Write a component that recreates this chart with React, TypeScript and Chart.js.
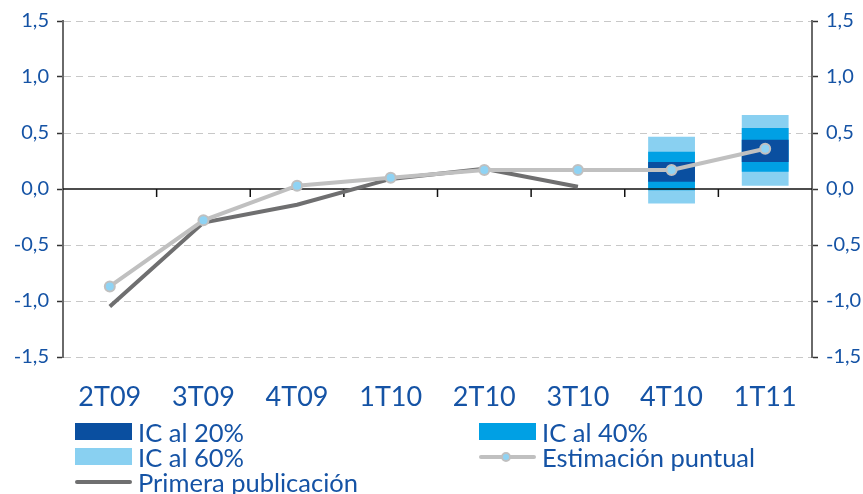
import React, { useEffect, useRef } from 'react';
import { Chart, registerables } from 'chart.js';
Chart.register(...registerables);

const categories = ['2T09', '3T09', '4T09', '1T10', '2T10', '3T10', '4T10', '1T11'];
const estimacion = [-0.87, -0.28, 0.03, 0.1, 0.17, 0.17, 0.17, 0.36];
const primera = [-1.05, -0.3, -0.14, 0.09, 0.18, 0.02, null, null];
const ic20Low = [null, null, null, null, null, null, 0.065, 0.24];
const ic20High = [null, null, null, null, null, null, 0.24, 0.44];
const ic40Low = [null, null, null, null, null, null, -0.012, 0.155];
const ic40High = [null, null, null, null, null, null, 0.333, 0.545];
const ic60Low = [null, null, null, null, null, null, -0.13, 0.03];
const ic60High = [null, null, null, null, null, null, 0.467, 0.66];
const yMin = -1.5;
const yMax = 1.5;
const yStep = 0.5;

const TEXT = '#1553a5';
const DARK = '#0a4fa0';
const MID = '#00a0e4';
const LIGHT = '#89d0f1';
const EST = '#c0c0c0';
const PRIM = '#6f6f70';
const FONT = 'Lato, "Open Sans", "DejaVu Sans", sans-serif';

const range = (lo: (number | null)[], hi: (number | null)[]) =>
  lo.map((v, i) => (v == null || hi[i] == null ? null : [v, hi[i] as number]));

const fmt = (v: number) => (Math.abs(v) < 1e-9 ? 0 : v).toFixed(1).replace('.', ',');

export default function App() {
  const ref = useRef<HTMLCanvasElement>(null);
  useEffect(() => {
    if (!ref.current) return;
    const zeroPlugin = {
      id: 'zeroLine',
      beforeDatasetDraw(chart: any, args: any) {
        if (args.index !== 1) return;
        const { ctx, chartArea, scales } = chart;
        const y0 = scales.y.getPixelForValue(0);
        ctx.save();
        ctx.strokeStyle = '#111';
        ctx.lineWidth = 1.5;
        ctx.beginPath();
        ctx.moveTo(chartArea.left, y0);
        ctx.lineTo(chartArea.right, y0);
        ctx.stroke();
        for (let i = 1; i < categories.length; i++) {
          const x = (scales.x.getPixelForValue(i - 1) + scales.x.getPixelForValue(i)) / 2;
          ctx.beginPath();
          ctx.moveTo(x, y0);
          ctx.lineTo(x, y0 + 8);
          ctx.stroke();
        }
        ctx.restore();
      },
    };
    const yCommon = (pos: 'left' | 'right', onArea: boolean, width: number) => ({
      type: 'linear' as const,
      position: pos,
      min: yMin,
      max: yMax,
      afterFit: (s: any) => {
        s.width = width;
      },
      ticks: {
        stepSize: yStep,
        color: TEXT,
        padding: 8,
        font: { family: FONT, size: 20 },
        callback: (v: any) => fmt(Number(v)),
      },
      grid: {
        display: true,
        drawOnChartArea: onArea,
        drawTicks: true,
        tickLength: 6,
        tickColor: '#333',
        tickWidth: 1.5,
        color: (c: any) => (c.tick && Math.abs(c.tick.value) < 1e-9 ? 'rgba(0,0,0,0)' : '#c8c8c8'),
        lineWidth: 1,
      },
      border: {
        display: true,
        color: '#6a6a6a',
        width: 2,
        dash: [7, 5],
      },
    });
    const chart = new Chart(ref.current, {
      type: 'bar',
      data: {
        labels: categories,
        datasets: [
          {
            type: 'line',
            label: 'Estimación puntual',
            data: estimacion,
            borderColor: EST,
            borderWidth: 4,
            pointRadius: 5,
            pointBackgroundColor: '#8fd3f4',
            pointBorderColor: EST,
            pointBorderWidth: 2,
            tension: 0,
            order: 0,
          },
          {
            type: 'line',
            label: 'Primera publicación',
            data: primera,
            borderColor: PRIM,
            borderWidth: 4,
            pointRadius: 0,
            tension: 0,
            spanGaps: false,
            order: 1,
          },
          {
            label: 'IC al 20%',
            data: range(ic20Low, ic20High) as any,
            backgroundColor: DARK,
            grouped: false,
            barPercentage: 0.5,
            categoryPercentage: 1,
            order: 2,
          },
          {
            label: 'IC al 40%',
            data: range(ic40Low, ic40High) as any,
            backgroundColor: MID,
            grouped: false,
            barPercentage: 0.5,
            categoryPercentage: 1,
            order: 3,
          },
          {
            label: 'IC al 60%',
            data: range(ic60Low, ic60High) as any,
            backgroundColor: LIGHT,
            grouped: false,
            barPercentage: 0.5,
            categoryPercentage: 1,
            order: 4,
          },
        ] as any,
      },
      options: {
        animation: false,
        responsive: true,
        maintainAspectRatio: false,
        layout: { padding: { top: 21, left: 0, right: 0, bottom: 0 } },
        plugins: { legend: { display: false }, tooltip: { enabled: false } },
        scales: {
          x: {
            type: 'category',
            offset: true,
            afterFit: (s: any) => {
              s.height = 137;
            },
            grid: { display: false, drawTicks: false },
            border: { display: false },
            ticks: {
              color: TEXT,
              padding: 24,
              font: { family: FONT, size: 27 },
              maxRotation: 0,
              autoSkip: false,
            },
          },
          y: yCommon('left', true, 63) as any,
          y2: yCommon('right', false, 51) as any,
        },
      },
      plugins: [zeroPlugin],
    });
    return () => chart.destroy();
  }, []);

  const text: React.CSSProperties = {
    position: 'absolute',
    fontFamily: FONT,
    fontSize: 25.5,
    lineHeight: '26px',
    color: TEXT,
    whiteSpace: 'nowrap',
  };
  const box = (left: number, top: number, color: string): React.CSSProperties => ({
    position: 'absolute',
    left,
    top,
    width: 57,
    height: 17,
    background: color,
  });

  return (
    <div style={{ position: 'fixed', left: 0, top: 0, width: 863, height: 494, background: '#fff', overflow: 'hidden' }}>
      <canvas ref={ref} style={{ position: 'absolute', left: 0, top: 0 }} />
      <div style={box(75, 423, DARK)} />
      <div style={{ ...text, left: 138, top: 419 }}>IC al 20%</div>
      <div style={box(479, 423, MID)} />
      <div style={{ ...text, left: 542, top: 419 }}>IC al 40%</div>
      <div style={box(75, 448, LIGHT)} />
      <div style={{ ...text, left: 138, top: 444 }}>IC al 60%</div>
      <div style={{ position: 'absolute', left: 479, top: 455, width: 57, height: 4, background: EST, borderRadius: 2 }} />
      <div
        style={{
          position: 'absolute',
          left: 501,
          top: 452,
          width: 10,
          height: 10,
          borderRadius: '50%',
          background: '#8fd3f4',
          border: `2px solid ${EST}`,
          boxSizing: 'border-box',
        }}
      />
      <div style={{ ...text, left: 542, top: 444 }}>Estimación puntual</div>
      <div style={{ position: 'absolute', left: 75, top: 480, width: 57, height: 4, background: PRIM, borderRadius: 2 }} />
      <div style={{ ...text, left: 138, top: 469 }}>Primera publicación</div>
    </div>
  );
}
